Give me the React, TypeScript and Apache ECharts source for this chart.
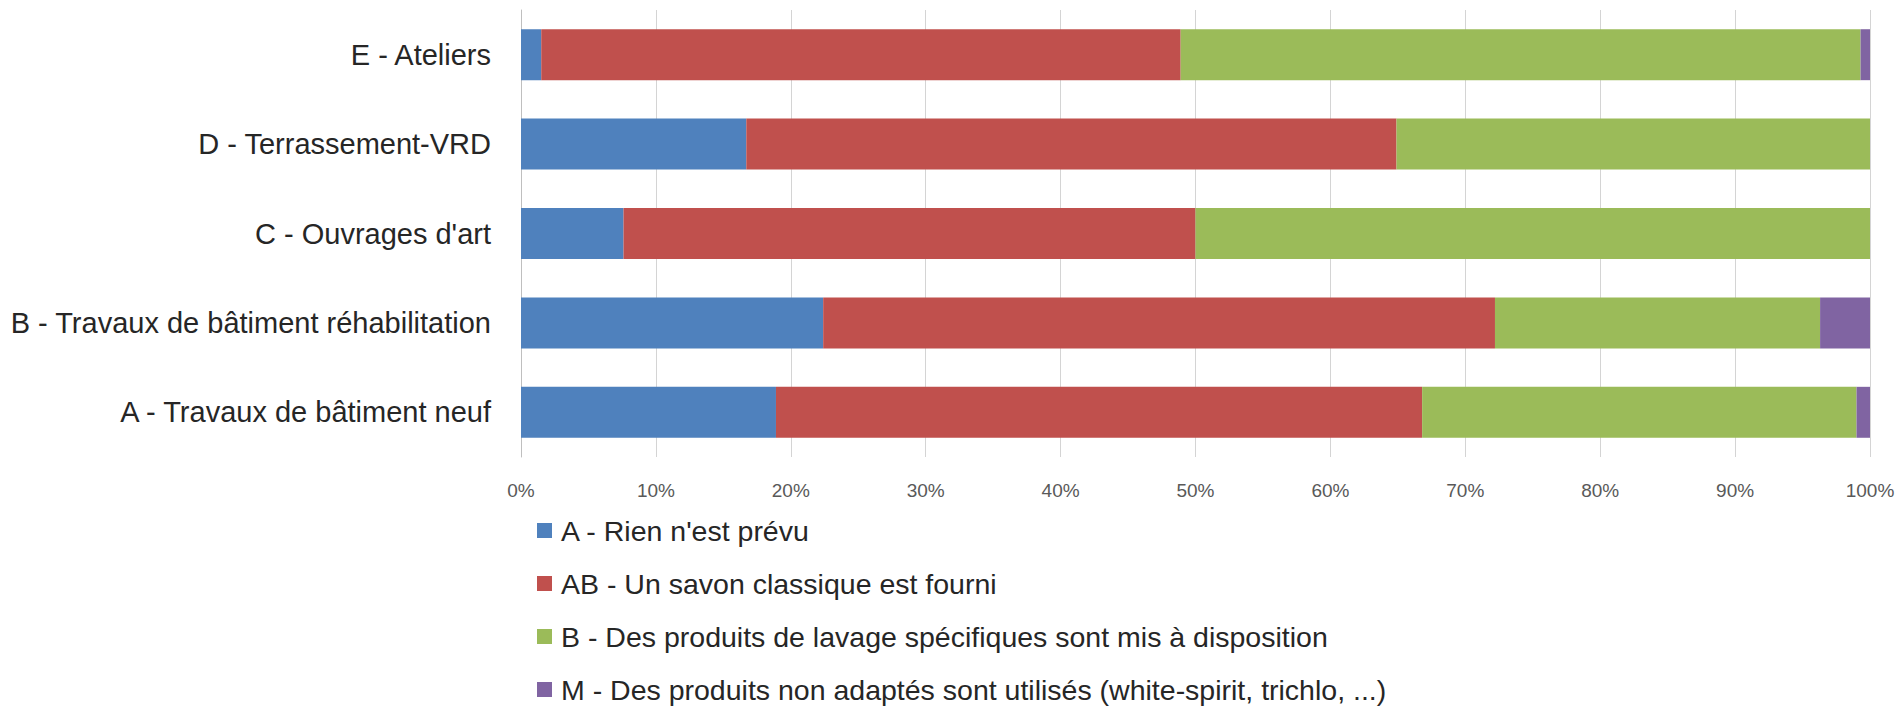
import React, { useEffect, useRef } from "react";
import * as echarts from "echarts";

const categories = [
  "A - Travaux de bâtiment neuf",
  "B - Travaux de bâtiment réhabilitation",
  "C - Ouvrages d'art",
  "D - Terrassement-VRD",
  "E - Ateliers",
];

const seriesNames = [
  "A - Rien n'est prévu",
  "AB - Un savon classique est fourni",
  "B - Des produits de lavage spécifiques sont mis à disposition",
  "M - Des produits non adaptés sont utilisés (white-spirit, trichlo, ...)",
];

// values in %, order follows categories (A .. E)
const rienPrevu = [18.9, 22.4, 7.6, 16.7, 1.5];
const savonClassique = [47.9, 49.8, 42.4, 48.2, 47.4];
const produitsSpecifiques = [32.2, 24.1, 50.0, 35.1, 50.4];
const produitsNonAdaptes = [1.0, 3.7, 0, 0, 0.7];

const xTicks = { min: 0, max: 100, interval: 10 };

const colors = ["#4F81BD", "#C0504D", "#9BBB59", "#8064A2"];

const FONT = "'Liberation Sans', Arial, sans-serif";

export default function App() {
  const ref = useRef<HTMLDivElement>(null);

  useEffect(() => {
    document.body.style.margin = "0";
    if (!ref.current) return;
    const chart = echarts.init(ref.current, undefined, { renderer: "svg" });
    const values = [rienPrevu, savonClassique, produitsSpecifiques, produitsNonAdaptes];
    chart.setOption({
      animation: false,
      backgroundColor: "#ffffff",
      color: colors,
      textStyle: { fontFamily: FONT },
      grid: { left: 521, right: 31, top: 10, height: 447, containLabel: false },
      legend: {
        orient: "vertical",
        left: 537,
        top: 516,
        height: 200,
        padding: 0,
        itemWidth: 15,
        itemHeight: 15,
        itemGap: 24,
        icon: "rect",
        data: seriesNames,
        textStyle: {
          fontFamily: FONT,
          fontSize: 28.5,
          lineHeight: 27,
          color: "#262626",
          padding: [0, 0, 0, 4],
        },
      },
      xAxis: {
        type: "value",
        min: xTicks.min,
        max: xTicks.max,
        interval: xTicks.interval,
        axisLine: { show: false },
        axisTick: { show: false },
        splitLine: { show: true, lineStyle: { color: "#d4d4d4", width: 1 } },
        axisLabel: {
          formatter: "{value}%",
          fontFamily: FONT,
          fontSize: 19,
          color: "#595959",
          margin: 24,
        },
      },
      yAxis: {
        type: "category",
        data: categories,
        axisLine: { show: true, lineStyle: { color: "#bfbfbf", width: 1 } },
        axisTick: { show: false },
        axisLabel: {
          fontFamily: FONT,
          fontSize: 29,
          color: "#262626",
          margin: 30,
        },
      },
      series: seriesNames.map((name, i) => ({
        name,
        type: "bar",
        stack: "total",
        barWidth: "57%",
        data: values[i],
        itemStyle: { color: colors[i] },
      })),
    });
    return () => chart.dispose();
  }, []);

  return (
    <div
      ref={ref}
      style={{ position: "absolute", left: 0, top: 0, width: 1901, height: 708 }}
    />
  );
}
